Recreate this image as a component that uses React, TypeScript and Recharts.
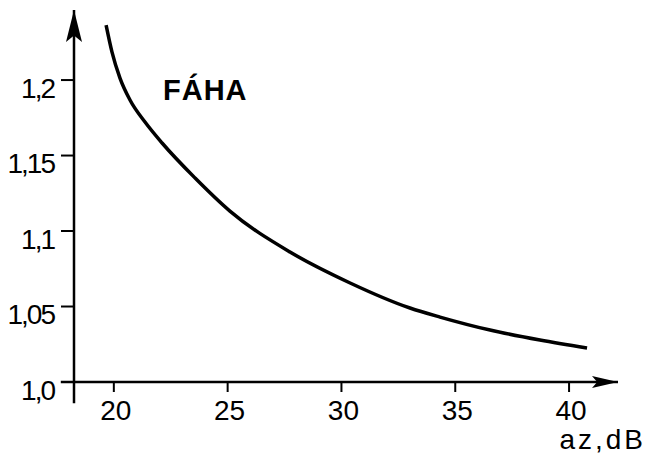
import { LineChart, Line, XAxis, YAxis, ReferenceLine, ReferenceDot, Label } from "recharts"

// attenuation a_z in dB
const azDb = [19.66, 19.92, 20.27, 20.71, 21.37, 22.12, 23.57, 25.1, 27.74, 30.38, 33.01, 34.33, 36.53, 38.72, 40.79]
const fahaValues = [1.2364, 1.2185, 1.2013, 1.1868, 1.1722, 1.1583, 1.1351, 1.1132, 1.0861, 1.0656, 1.049, 1.043, 1.0344, 1.0278, 1.0225]

const xTicks = [20, 25, 30, 35, 40]
const yTicks = [1.0, 1.05, 1.1, 1.15, 1.2]
const yTickLabels = ["1,0", "1,05", "1,1", "1,15", "1,2"]

const seriesName = "FÁHA"
const xAxisTitle = "az,dB"

const data = azDb.map((az, i) => ({ az, faha: fahaValues[i] }))

const FONT = "'Liberation Sans', Arial, sans-serif"

const XTick = ({ x, y, payload }: any) => (
  <text x={x + 2} y={y + 6} textAnchor="middle" dominantBaseline="hanging" fontFamily={FONT} fontSize={28} fill="#000">
    {payload.value}
  </text>
)

const YTick = ({ x, y, payload }: any) => {
  const idx = yTicks.indexOf(payload.value)
  return (
    <text x={x} y={y + 8} textAnchor="end" dominantBaseline="central" fontFamily={FONT} fontSize={28} fill="#000" letterSpacing={-2}>
      {idx >= 0 ? yTickLabels[idx] : payload.value}
    </text>
  )
}

// axis line with a drawn arrow head at its end
const arrowLine = (id: string, len: number, half: number) => (p: any) => (
  <g>
    <defs>
      <marker id={id} markerUnits="userSpaceOnUse" orient="auto" refX={0} refY={0} markerWidth={1} markerHeight={1} overflow="visible">
        <path d={`M0,0 L${-len},${-half} L${-len * 0.8},0 L${-len},${half} Z`} fill="#000" />
      </marker>
    </defs>
    <line x1={p.x1} y1={p.y1} x2={p.x2} y2={p.y2} stroke="#000" strokeWidth={2.5} markerEnd={`url(#${id})`} />
  </g>
)

export default function App() {
  return (
    <div style={{ position: "absolute", left: 0, top: 0, width: 651, height: 456, background: "#fff" }}>
      <LineChart width={651} height={456} data={data} margin={{ top: 10, right: 33, left: 0, bottom: 0 }}>
        <XAxis
          type="number"
          dataKey="az"
          domain={[18.25, 42.15]}
          ticks={xTicks}
          axisLine={false}
          tickLine={{ stroke: "#000", strokeWidth: 2 }}
          tickSize={10}
          tick={<XTick />}
          height={74}
          interval={0}
        >
          <Label
            content={({ viewBox }: any) => (
              <text
                x={viewBox.x + viewBox.width + 28}
                y={viewBox.y + 67}
                textAnchor="end"
                fontFamily={FONT}
                fontSize={28}
                letterSpacing={3}
                fill="#000"
              >
                {xAxisTitle}
              </text>
            )}
          />
        </XAxis>
        <YAxis
          type="number"
          domain={[1.0, 1.2464]}
          ticks={yTicks}
          axisLine={false}
          tickLine={{ stroke: "#000", strokeWidth: 2 }}
          tickSize={13}
          tickMargin={7}
          tick={<YTick />}
          width={74}
          interval={0}
        />
        <ReferenceLine
          segment={[{ x: 17.67, y: 1.0 }, { x: 42.15, y: 1.0 }]}
          ifOverflow="visible"
          shape={arrowLine("arrowX", 26, 6)}
        />
        <ReferenceLine
          segment={[{ x: 18.25, y: 0.986 }, { x: 18.25, y: 1.2464 }]}
          ifOverflow="visible"
          shape={arrowLine("arrowY", 32, 8)}
        />
        <ReferenceDot
          x={22.16}
          y={1.187}
          r={0}
          fill="none"
          stroke="none"
          label={{
            content: ({ viewBox }: any) => (
              <text x={viewBox.x} y={viewBox.y} fontFamily={FONT} fontSize={29} fontWeight="bold" letterSpacing={1} fill="#000">
                {seriesName}
              </text>
            ),
          }}
        />
        <Line
          type="monotone"
          dataKey="faha"
          stroke="#000"
          strokeWidth={3.5}
          dot={false}
          isAnimationActive={false}
        />
      </LineChart>
    </div>
  )
}
